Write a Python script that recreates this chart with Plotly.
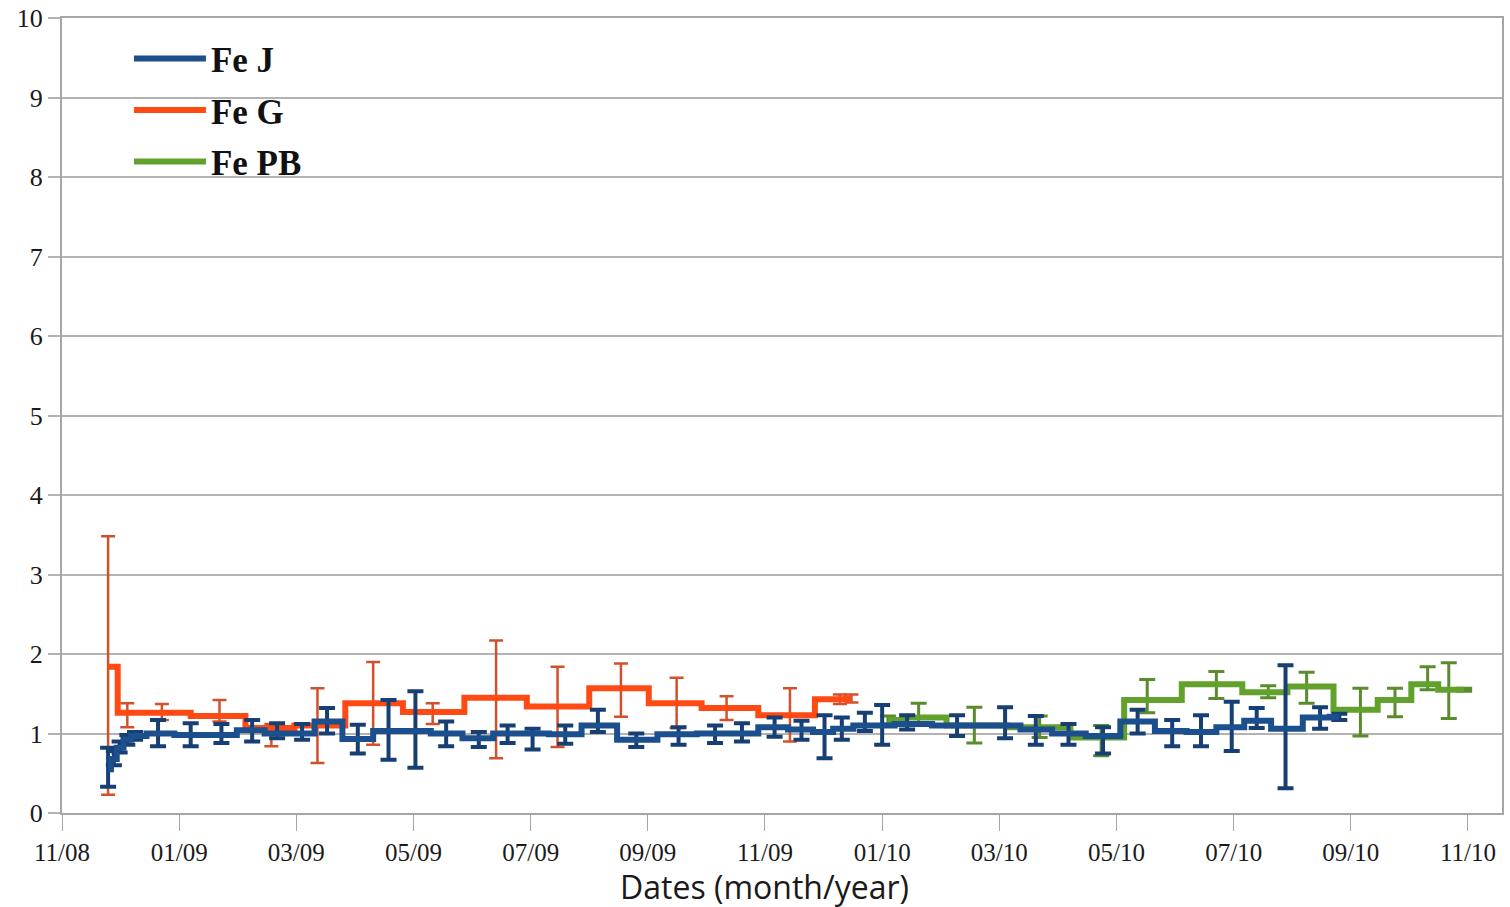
import plotly.graph_objects as go

# ---------------- data ----------------
fej_dates = ["2008-11-25", "2008-11-28", "2008-12-01", "2008-12-05", "2008-12-09",
             "2008-12-21", "2009-01-07", "2009-01-23", "2009-02-08", "2009-02-21",
             "2009-03-06", "2009-03-19", "2009-04-04", "2009-04-20", "2009-05-04",
             "2009-05-20", "2009-06-06", "2009-06-21", "2009-07-04", "2009-07-21",
             "2009-08-07", "2009-08-27", "2009-09-18", "2009-10-07", "2009-10-21",
             "2009-11-07", "2009-11-21", "2009-12-03", "2009-12-12", "2009-12-24",
             "2010-01-02", "2010-01-15", "2010-02-10", "2010-03-07", "2010-03-23",
             "2010-04-09", "2010-04-27", "2010-05-15", "2010-06-02", "2010-06-17",
             "2010-07-03", "2010-07-16", "2010-07-31", "2010-08-18", "2010-08-28"]
fej_vals = [0.55, 0.68, 0.82, 0.92, 0.97, 1.00, 0.98, 0.98, 1.04, 1.00,
            1.00, 1.15, 0.93, 1.03, 1.03, 1.00, 0.94, 1.00, 1.00, 0.99,
            1.10, 0.92, 0.99, 1.00, 1.00, 1.08, 1.05, 1.02, 1.06, 1.10,
            1.10, 1.12, 1.10, 1.10, 1.05, 1.00, 0.97, 1.15, 1.03, 1.02,
            1.08, 1.16, 1.06, 1.20, 1.21]
fej_hi = [0.82, 0.78, 0.90, 0.98, 1.02, 1.17, 1.13, 1.12, 1.17, 1.13,
          1.12, 1.32, 1.11, 1.42, 1.53, 1.15, 1.02, 1.10, 1.06, 1.10,
          1.30, 1.00, 1.08, 1.10, 1.13, 1.20, 1.16, 1.23, 1.20, 1.26,
          1.36, 1.23, 1.23, 1.33, 1.22, 1.12, 1.08, 1.30, 1.17, 1.23,
          1.40, 1.32, 1.86, 1.33, 1.25]
fej_lo = [0.33, 0.60, 0.76, 0.86, 0.92, 0.84, 0.84, 0.88, 0.90, 0.94,
          0.92, 1.00, 0.75, 0.67, 0.57, 0.84, 0.83, 0.88, 0.80, 0.87,
          1.02, 0.83, 0.86, 0.88, 0.90, 0.96, 0.92, 0.69, 0.92, 1.03,
          0.86, 1.05, 0.97, 0.94, 0.86, 0.86, 0.75, 1.00, 0.84, 0.84,
          0.78, 1.07, 0.31, 1.06, 1.17]

feg_dates = ["2008-11-25", "2008-12-05", "2008-12-23", "2009-01-22", "2009-02-18",
             "2009-03-14", "2009-04-12", "2009-05-13", "2009-06-15", "2009-07-17",
             "2009-08-19", "2009-09-17", "2009-10-13", "2009-11-15", "2009-12-11",
             "2009-12-17"]
feg_vals = [1.84, 1.26, 1.26, 1.22, 1.07, 1.10, 1.38, 1.27, 1.45, 1.34,
            1.57, 1.38, 1.32, 1.23, 1.43, 1.44]
feg_hi = [3.48, 1.38, 1.37, 1.42, 1.12, 1.57, 1.90, 1.38, 2.17, 1.84,
          1.88, 1.70, 1.47, 1.57, 1.49, 1.49]
feg_lo = [0.23, 1.08, 1.17, 1.15, 0.84, 0.63, 0.86, 1.12, 0.69, 0.83,
          1.21, 1.07, 1.17, 0.90, 1.37, 1.39]

fepb_dates = ["2010-01-05", "2010-01-21", "2010-02-19", "2010-03-25", "2010-04-26",
              "2010-05-20", "2010-06-25", "2010-07-22", "2010-08-11", "2010-09-08",
              "2010-09-26", "2010-10-13", "2010-10-24", "2010-11-01"]
fepb_vals = [1.17, 1.20, 1.10, 1.08, 0.95, 1.42, 1.62, 1.52, 1.59, 1.30,
             1.42, 1.62, 1.55, 1.55]
fepb_hi = [1.22, 1.38, 1.33, 1.22, 1.10, 1.68, 1.78, 1.60, 1.77, 1.57,
           1.57, 1.84, 1.89, 1.57]
fepb_lo = [1.12, 1.10, 0.88, 0.95, 0.72, 1.26, 1.44, 1.45, 1.38, 0.97,
           1.21, 1.55, 1.19, 1.53]

y_ticks = list(range(0, 11))
x_title = "Dates (month/year)"

BLUE, BLUE_ERR = "#1c4f8e", "#173f73"
ORANGE, ORANGE_ERR = "#ff4a14", "#d2502c"
GREEN, GREEN_ERR = "#62a22c", "#5a8c2e"


def err(vals, hi, lo):
    return ([h - v for v, h in zip(vals, hi)], [v - l for v, l in zip(vals, lo)])


fig = go.Figure()

series = [
    ("Fe G", feg_dates, feg_vals, feg_hi, feg_lo, ORANGE, ORANGE_ERR, 2.5, 7, 2),
    ("Fe PB", fepb_dates, fepb_vals, fepb_hi, fepb_lo, GREEN, GREEN_ERR, 3, 8, 3),
    ("Fe J", fej_dates, fej_vals, fej_hi, fej_lo, BLUE, BLUE_ERR, 4, 8, 1),
]
for name, d, v, hi, lo, col, ecol, eth, ew, rank in series:
    plus, minus = err(v, hi, lo)
    fig.add_trace(go.Scatter(
        x=d, y=v, name=f"<b>{name}</b>", mode="lines", legendrank=rank,
        legendgroup=name,
        line=dict(color=col, width=6, shape="hvh"),
        error_y=dict(type="data", symmetric=False, array=plus, arrayminus=minus,
                     color=ecol, thickness=eth, width=ew),
    ))

fig.update_layout(
    width=1510, height=907,
    margin=dict(l=62, r=8, t=18, b=94),
    paper_bgcolor="white", plot_bgcolor="white",
    showlegend=True,
    legend=dict(x=0.0465, y=0.986, xanchor="left", yanchor="top",
                bgcolor="rgba(0,0,0,0)", itemwidth=72, traceorder="grouped",
                tracegroupgap=3,
                font=dict(family="Liberation Serif", size=35, color="#111"),
                itemclick=False),
    xaxis=dict(
        type="date", automargin=False,
        range=["2008-11-01", "2010-11-20 17:00"],
        tick0="2008-11-01", dtick=61 * 86400000,
        tickformat="%m/%y",
        showgrid=False, showline=True, linecolor="#a6a6a6", linewidth=2,
        mirror=True, ticks="outside", ticklen=16, tickcolor="#a6a6a6", tickwidth=1,
        tickfont=dict(family="Liberation Serif", size=25, color="#1a1a1a"),
        zeroline=False,
    ),
    yaxis=dict(
        range=[0, 10], tickvals=y_ticks, automargin=False,
        ticklabeloverflow="allow",
        showgrid=True, gridcolor="#b3b3b3", gridwidth=2,
        showline=True, linecolor="#a6a6a6", linewidth=2, mirror=True,
        ticks="outside", ticklen=12, tickcolor="#b3b3b3", tickwidth=2,
        tickfont=dict(family="Liberation Serif", size=26, color="#1a1a1a"),
        zeroline=False,
    ),
    annotations=[dict(
        text=x_title, xref="paper", yref="paper", x=0.488, y=-0.092,
        xanchor="center", yanchor="middle", showarrow=False,
        font=dict(family="Open Sans", size=32, color="#1a1a1a"),
    )],
)

# remove the page's default 8px body margin so the figure fills the window
fig.write_html("out.html", config={"displayModeBar": False},
               post_script="document.body.style.margin='0';")
